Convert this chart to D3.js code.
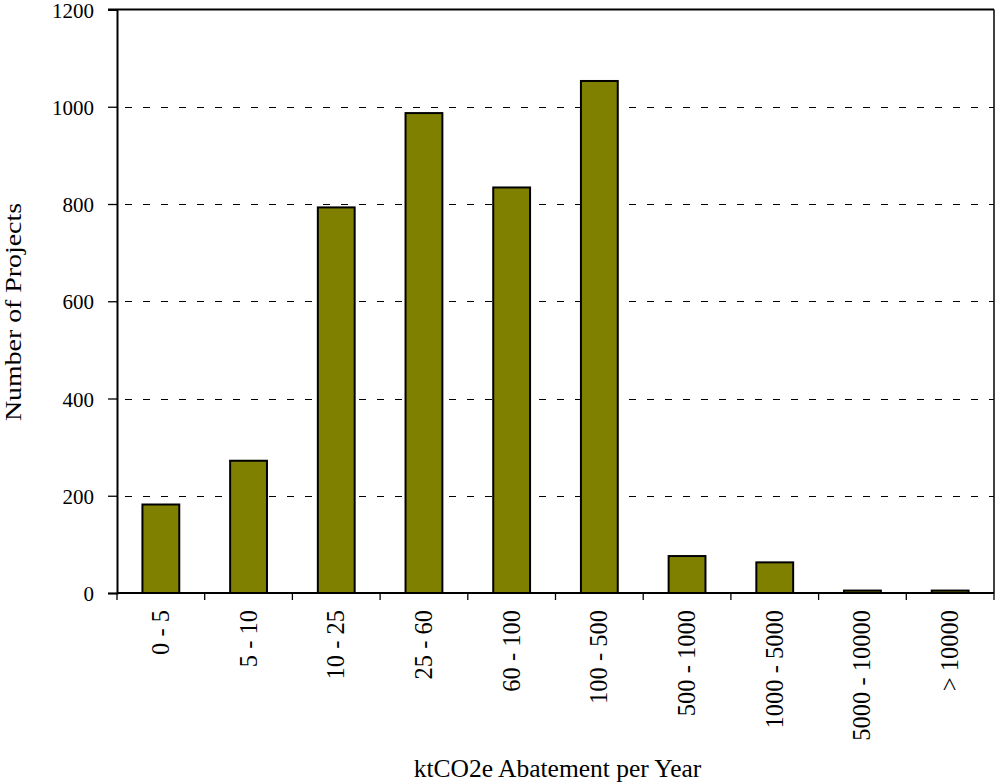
<!DOCTYPE html>
<html>
<head>
<meta charset="utf-8">
<script src="https://cdn.jsdelivr.net/npm/d3@7"></script>
<style>
  html, body { margin: 0; padding: 0; background: #fff; }
  svg { display: block; }
  svg text { font-family: "Liberation Serif", "Times New Roman", serif; fill: #000; }
</style>
</head>
<body>
<svg id="chart" width="995" height="783"></svg>
<script>
// Abatement size classes and project counts
const categories = ["0 - 5", "5 - 10", "10 - 25", "25 - 60", "60 - 100", "100 - 500",
                    "500 - 1000", "1000 - 5000", "5000 - 10000", "> 10000"];
const projects = [182, 272, 793, 987, 834, 1053, 76, 63, 5, 5];
const yTicks = [0, 200, 400, 600, 800, 1000, 1200];

const W = 995, H = 783;
const margin = { left: 117, right: 1, top: 9.5, bottom: 190 };
const x0 = margin.left, x1 = W - margin.right;
const y0 = H - margin.bottom, y1 = margin.top;
const serif = "'Liberation Serif', 'Times New Roman', serif";

const svg = d3.select("#chart");

const x = d3.scaleBand().domain(categories).range([x0, x1]).padding(0);
const y = d3.scaleLinear().domain([0, 1200]).range([y0, y1]);

// dashed horizontal gridlines
svg.append("g")
  .selectAll("line")
  .data(yTicks.filter(d => d > 0 && d < 1200))
  .join("line")
  .attr("x1", x0 + 1).attr("x2", x1)
  .attr("y1", d => Math.round(y(d)) + 0.5).attr("y2", d => Math.round(y(d)) + 0.5)
  .attr("stroke", "#000").attr("stroke-width", 1.2)
  .attr("stroke-dasharray", "7,11").attr("stroke-dashoffset", -7);

// bars
const barW = x.bandwidth() * 0.42;
svg.append("g")
  .selectAll("rect")
  .data(categories.map((c, i) => ({ c, v: projects[i] })))
  .join("rect")
  .attr("x", d => x(d.c) + (x.bandwidth() - barW) / 2)
  .attr("width", barW)
  .attr("y", d => y(d.v))
  .attr("height", d => y(0) - y(d.v))
  .attr("fill", "#808000")
  .attr("stroke", "#000")
  .attr("stroke-width", 2);

// plot frame: top and right edges
svg.append("line").attr("x1", x0 - 9).attr("x2", x1).attr("y1", y1).attr("y2", y1)
  .attr("stroke", "#000").attr("stroke-width", 2);
svg.append("line").attr("x1", x1).attr("x2", x1).attr("y1", y1).attr("y2", y0)
  .attr("stroke", "#000").attr("stroke-width", 1.5);

// y axis
const yAxis = d3.axisLeft(y).tickValues(yTicks).tickFormat(d3.format("d"))
  .tickSize(9).tickPadding(14);
const gy = svg.append("g").attr("transform", `translate(${x0},0)`).call(yAxis)
  .attr("font-family", serif).attr("font-size", 21);
gy.select(".domain").attr("stroke-width", 2);
gy.selectAll(".tick line").attr("stroke-width", 1.3);
gy.selectAll(".tick text").attr("font-family", serif).attr("font-size", 21)
  .attr("fill", "#000").attr("dy", "0.36em");

// x axis: ticks sit on category boundaries
const gx = svg.append("g").attr("transform", `translate(0,${y0})`);
gx.append("line").attr("x1", x0).attr("x2", x1).attr("y1", 0).attr("y2", 0)
  .attr("stroke", "#000").attr("stroke-width", 2);
const bounds = categories.map(c => x(c)).concat([x1]);
gx.selectAll("line.tk").data(bounds).join("line").attr("class", "tk")
  .attr("x1", d => d).attr("x2", d => d).attr("y1", 0).attr("y2", 7)
  .attr("stroke", "#000").attr("stroke-width", 1.3);
gx.selectAll("text").data(categories).join("text")
  .attr("transform", d => `translate(${x(d) + x.bandwidth() / 2 + 8},${17}) rotate(-90)`)
  .attr("text-anchor", "end")
  .attr("font-family", serif)
  .attr("font-size", 24.5)
  .attr("fill", "#000")
  .text(d => d);

// axis titles
svg.append("text")
  .attr("x", (x0 + x1) / 2 + 2).attr("y", 777)
  .attr("text-anchor", "middle").attr("font-family", serif).attr("font-size", 25.5)
  .attr("fill", "#000")
  .text("ktCO2e Abatement per Year");

svg.append("text")
  .attr("transform", `translate(21,${312}) rotate(-90)`)
  .attr("text-anchor", "middle").attr("font-family", serif).attr("font-size", 24)
  .attr("textLength", 218).attr("lengthAdjust", "spacingAndGlyphs")
  .attr("fill", "#000")
  .text("Number of Projects");
</script>
</body>
</html>
